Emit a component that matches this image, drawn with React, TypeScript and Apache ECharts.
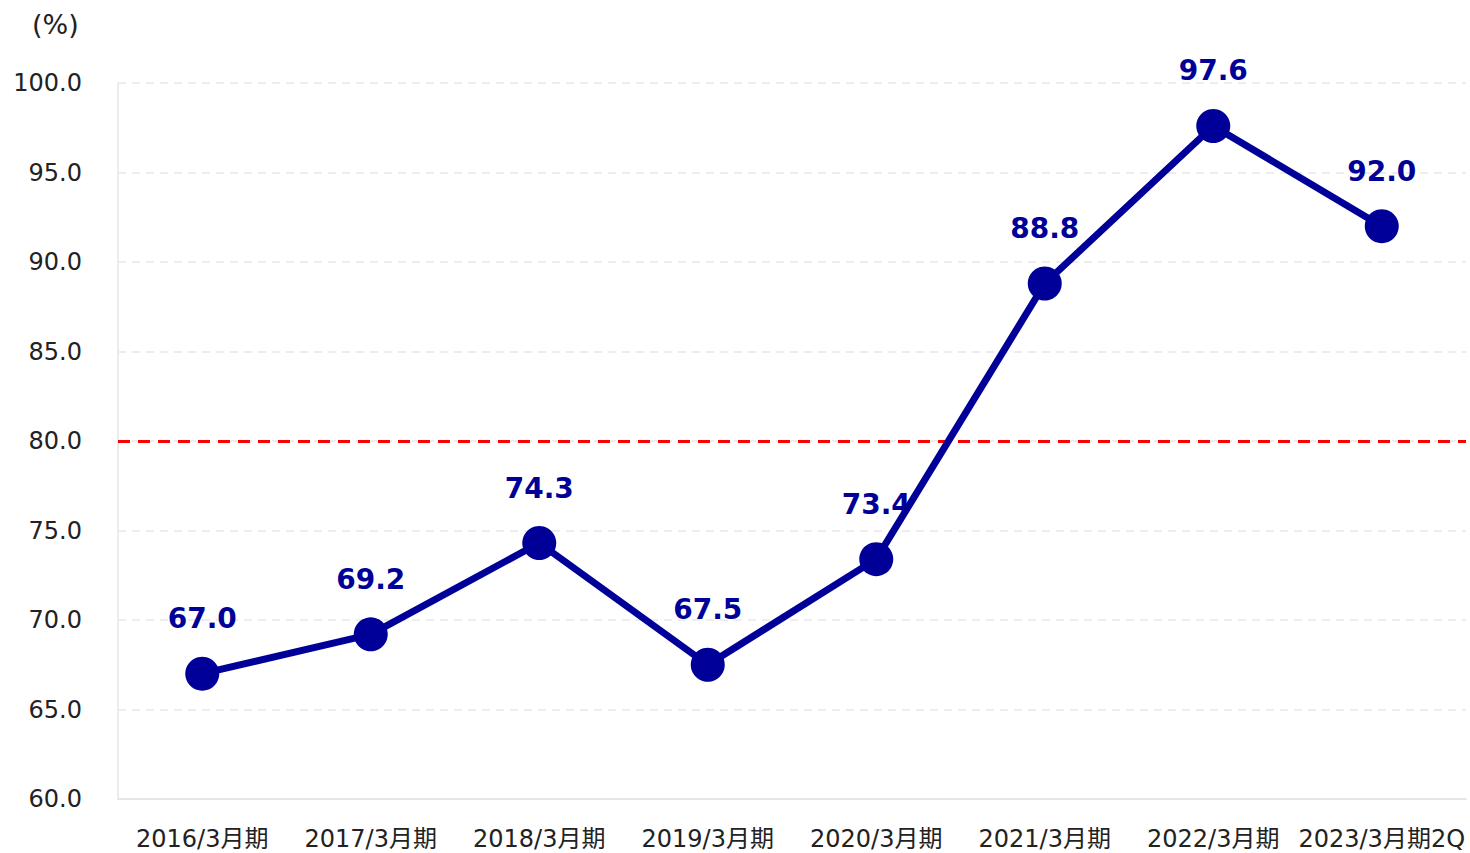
import React, { useEffect, useRef } from "react";
import * as echarts from "echarts";

const categories = ["2016/3月期", "2017/3月期", "2018/3月期", "2019/3月期", "2020/3月期", "2021/3月期", "2022/3月期", "2023/3月期2Q"];
const values = [67.0, 69.2, 74.3, 67.5, 73.4, 88.8, 97.6, 92.0];
const thresholdValue = 80;
const yMin = 60;
const yMax = 100;
const yInterval = 5;
const unitLabel = "(%)";

const FONT = "'DejaVu Sans', 'Noto Sans CJK JP', sans-serif";

export default function App() {
  const ref = useRef<HTMLDivElement>(null);
  useEffect(() => {
    if (!ref.current) return;
    const chart = echarts.init(ref.current, null, { renderer: "svg" });
    chart.setOption({
      animation: false,
      backgroundColor: "#ffffff",
      grid: { left: 118, right: 4, top: 83, bottom: 54, containLabel: false },
      graphic: [
        {
          type: "text",
          left: 32,
          top: 11,
          style: { text: unitLabel, fontSize: 27, fontFamily: FONT, fill: "#222" },
        },
      ],
      xAxis: {
        type: "category",
        data: categories,
        boundaryGap: true,
        axisLine: { show: true, lineStyle: { color: "#e6e6e6", width: 2 } },
        axisTick: { show: false },
        axisLabel: { color: "#222", fontSize: 24, fontFamily: FONT, margin: 28, interval: 0 },
        splitLine: { show: false },
      },
      yAxis: {
        type: "value",
        min: yMin,
        max: yMax,
        interval: yInterval,
        axisLine: { show: true, lineStyle: { color: "#ececec", width: 2 } },
        axisTick: { show: false },
        axisLabel: {
          color: "#222",
          fontSize: 24,
          fontFamily: FONT,
          margin: 36,
          formatter: (v: number) => v.toFixed(1),
        },
        splitLine: { show: true, lineStyle: { color: "#e8e8e8", type: [8, 6], width: 1.5 } },
      },
      series: [
        {
          type: "line",
          data: values,
          symbol: "circle",
          symbolSize: 34,
          lineStyle: { color: "#000099", width: 7 },
          itemStyle: { color: "#000099" },
          label: {
            show: true,
            position: "top",
            distance: 24,
            color: "#000099",
            fontSize: 28,
            fontWeight: "bold",
            fontFamily: FONT,
            formatter: (p: any) => Number(p.value).toFixed(1),
          },
          markLine: {
            silent: true,
            symbol: ["none", "none"],
            label: { show: false },
            lineStyle: { color: "#ff0000", type: [12, 8], width: 3 },
            data: [{ yAxis: thresholdValue }],
            z: 1,
          },
        },
      ],
    });
    return () => chart.dispose();
  }, []);
  return (
    <div
      ref={ref}
      style={{ position: "absolute", left: 0, top: 0, width: 1470, height: 853 }}
    />
  );
}
